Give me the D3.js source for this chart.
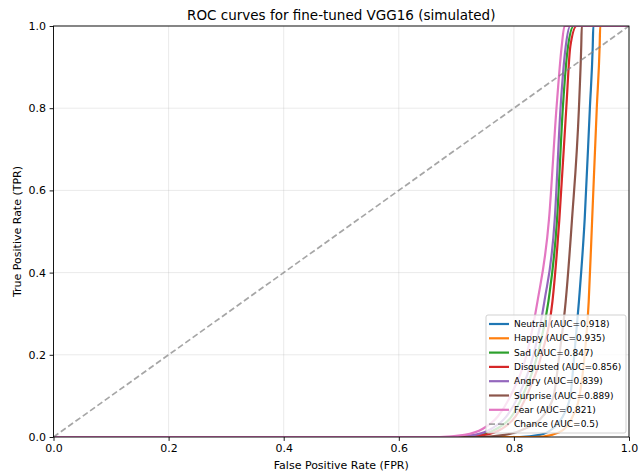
<!DOCTYPE html>
<html>
<head>
<meta charset="utf-8">
<script src="https://cdn.jsdelivr.net/npm/d3@7"></script>
<style>
  body { margin: 0; background: #fff; }
  text { font-family: "DejaVu Sans", sans-serif; fill: #000; }
</style>
</head>
<body>
<div id="chart"></div>
<script>
// --- data ---
const classNames = ["Neutral", "Happy", "Sad", "Disgusted", "Angry", "Surprise", "Fear"];
const aucValues = [0.918, 0.935, 0.847, 0.856, 0.839, 0.889, 0.821];
const colors = ["#1f77b4", "#ff7f0e", "#2ca02c", "#d62728", "#9467bd", "#8c564b", "#e377c2"];

// shared TPR levels, one FPR list per class
const tprLevels = [0, 0, 0.005, 0.02, 0.05, 0.1, 0.2, 0.33, 0.53, 0.8, 0.95, 1, 1];
const fprNeutral   = [0, 0.810, 0.845, 0.867, 0.885, 0.898, 0.905, 0.913, 0.923, 0.932, 0.937, 0.938, 1];
const fprHappy     = [0, 0.836, 0.865, 0.888, 0.902, 0.914, 0.923, 0.930, 0.936, 0.944, 0.949, 0.950, 1];
const fprSad       = [0, 0.697, 0.740, 0.770, 0.796, 0.815, 0.841, 0.860, 0.875, 0.885, 0.894, 0.904, 1];
const fprDisgusted = [0, 0.706, 0.749, 0.779, 0.803, 0.822, 0.848, 0.867, 0.879, 0.891, 0.898, 0.909, 1];
const fprAngry     = [0, 0.688, 0.732, 0.761, 0.787, 0.808, 0.834, 0.853, 0.871, 0.881, 0.890, 0.898, 1];
const fprSurprise  = [0, 0.740, 0.784, 0.819, 0.850, 0.869, 0.879, 0.890, 0.901, 0.913, 0.917, 0.918, 1];
const fprFear      = [0, 0.671, 0.714, 0.746, 0.772, 0.794, 0.822, 0.841, 0.861, 0.874, 0.883, 0.888, 1];
const fprLists = [fprNeutral, fprHappy, fprSad, fprDisgusted, fprAngry, fprSurprise, fprFear];

const chanceLine = [[0, 0], [1, 1]];
const tickValues = [0, 0.2, 0.4, 0.6, 0.8, 1.0];

const width = 639, height = 472;
const plotLeft = 53.5, plotRight = 629, plotTop = 26, plotBottom = 437;

const svg = d3.select("#chart").append("svg")
    .attr("width", width)
    .attr("height", height);

const x = d3.scaleLinear().domain([0, 1]).range([plotLeft, plotRight]);
const y = d3.scaleLinear().domain([0, 1]).range([plotBottom, plotTop]);

svg.append("defs").append("clipPath").attr("id", "plot-clip")
  .append("rect")
    .attr("x", plotLeft).attr("y", plotTop)
    .attr("width", plotRight - plotLeft).attr("height", plotBottom - plotTop);

// grid
const grid = svg.append("g");
tickValues.forEach(t => {
    grid.append("line")
        .attr("x1", x(t)).attr("x2", x(t)).attr("y1", plotTop).attr("y2", plotBottom)
        .attr("stroke", "#b0b0b0").attr("stroke-opacity", 0.3).attr("stroke-width", 0.9);
    grid.append("line")
        .attr("y1", y(t)).attr("y2", y(t)).attr("x1", plotLeft).attr("x2", plotRight)
        .attr("stroke", "#b0b0b0").attr("stroke-opacity", 0.3).attr("stroke-width", 0.9);
});

// curves
const line = d3.line()
    .x(d => x(d[0]))
    .y(d => y(d[1]))
    .curve(d3.curveMonotoneX);

const series = classNames.map((name, i) => ({
    name: name,
    auc: aucValues[i],
    color: colors[i],
    points: fprLists[i].map((f, j) => [f, tprLevels[j]])
}));

const plot = svg.append("g").attr("clip-path", "url(#plot-clip)");

plot.selectAll("path.roc")
    .data(series)
    .enter().append("path")
    .attr("class", "roc")
    .attr("d", d => line(d.points))
    .attr("fill", "none")
    .attr("stroke", d => d.color)
    .attr("stroke-width", 2.2)
    .attr("stroke-linejoin", "round");

plot.append("path")
    .attr("d", d3.line().x(d => x(d[0])).y(d => y(d[1]))(chanceLine))
    .attr("fill", "none")
    .attr("stroke", "#808080")
    .attr("stroke-opacity", 0.7)
    .attr("stroke-width", 1.7)
    .attr("stroke-dasharray", "6,3");

// axes
const fmt = d3.format(".1f");
const xAxis = svg.append("g")
    .attr("transform", `translate(0,${plotBottom})`)
    .call(d3.axisBottom(x).tickValues(tickValues).tickFormat(fmt).tickSize(3.9).tickPadding(3.5));
const yAxis = svg.append("g")
    .attr("transform", `translate(${plotLeft},0)`)
    .call(d3.axisLeft(y).tickValues(tickValues).tickFormat(fmt).tickSize(3.9).tickPadding(3.5));

[xAxis, yAxis].forEach(a => {
    a.select(".domain").remove();
    a.selectAll(".tick line").attr("stroke", "#000").attr("stroke-width", 0.9);
    a.selectAll(".tick text").attr("font-size", 11).attr("font-family", "DejaVu Sans").attr("fill", "#000");
});

// spines
svg.append("rect")
    .attr("x", plotLeft).attr("y", plotTop)
    .attr("width", plotRight - plotLeft).attr("height", plotBottom - plotTop)
    .attr("fill", "none").attr("stroke", "#000").attr("stroke-width", 0.9);

// title and labels
svg.append("text")
    .attr("x", (plotLeft + plotRight) / 2).attr("y", 20)
    .attr("text-anchor", "middle").attr("font-size", 13.5)
    .text("ROC curves for fine-tuned VGG16 (simulated)");

svg.append("text")
    .attr("x", (plotLeft + plotRight) / 2).attr("y", 469)
    .attr("text-anchor", "middle").attr("font-size", 11)
    .text("False Positive Rate (FPR)");

svg.append("text")
    .attr("transform", `translate(21,${(plotTop + plotBottom) / 2}) rotate(-90)`)
    .attr("text-anchor", "middle").attr("font-size", 11)
    .text("True Positive Rate (TPR)");

// legend
const legendItems = series.map(s => ({ label: `${s.name} (AUC=${s.auc})`, color: s.color, dash: null }))
    .concat([{ label: "Chance (AUC=0.5)", color: "#808080", dash: "6,3" }]);

const lg = svg.append("g").attr("transform", "translate(486,315)");
lg.append("rect")
    .attr("width", 140).attr("height", 118)
    .attr("rx", 2)
    .attr("fill", "#fff").attr("fill-opacity", 0.8)
    .attr("stroke", "#cccccc").attr("stroke-width", 0.9);

const rows = lg.selectAll("g.row")
    .data(legendItems)
    .enter().append("g")
    .attr("class", "row")
    .attr("transform", (d, i) => `translate(0,${9 + i * 14.3})`);

rows.append("line")
    .attr("x1", 3).attr("x2", 23)
    .attr("stroke", d => d.color)
    .attr("stroke-opacity", d => d.dash ? 0.7 : 1)
    .attr("stroke-width", d => d.dash ? 1.7 : 2.2)
    .attr("stroke-dasharray", d => d.dash);

rows.append("text")
    .attr("x", 28).attr("dy", "0.35em")
    .attr("font-size", 9)
    .text(d => d.label);
</script>
</body>
</html>
